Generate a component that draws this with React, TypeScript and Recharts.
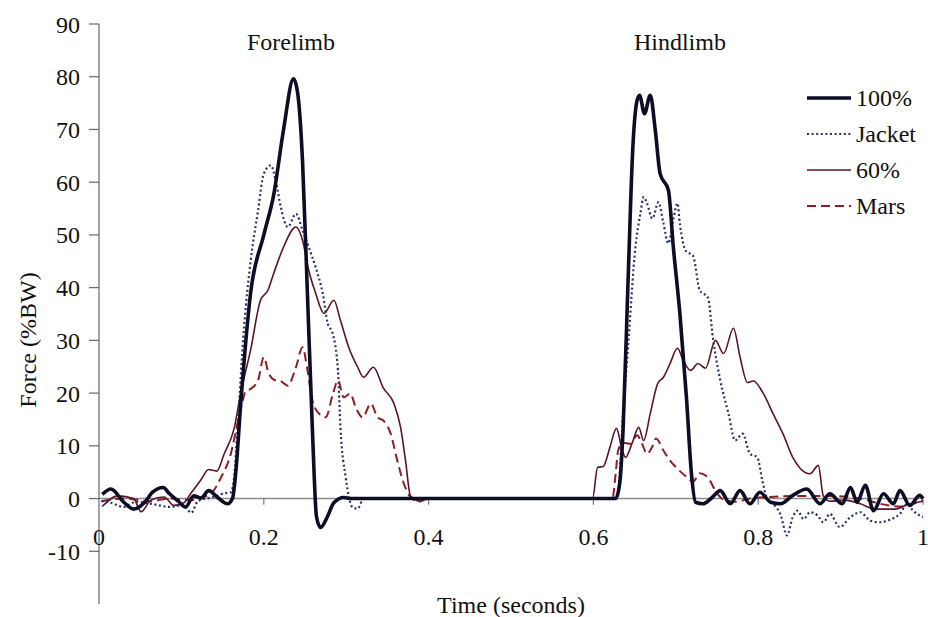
import { LineChart, Line, XAxis, YAxis, ReferenceLine, ReferenceDot, Legend } from "recharts"

// Ground reaction force traces (time in s, force in %BW)
const fullT = [0.004, 0.0145, 0.03, 0.042, 0.055, 0.065, 0.078, 0.085, 0.096, 0.105, 0.115, 0.124, 0.133, 0.144, 0.156, 0.162, 0.166, 0.172, 0.184, 0.2, 0.212, 0.224, 0.236, 0.241, 0.247, 0.253, 0.259, 0.264, 0.269, 0.277, 0.285, 0.297, 0.305, 0.45, 0.627, 0.632, 0.636, 0.642, 0.648, 0.653, 0.656, 0.662, 0.669, 0.675, 0.681, 0.691, 0.697, 0.705, 0.713, 0.719, 0.724, 0.733, 0.744, 0.754, 0.766, 0.778, 0.79, 0.802, 0.815, 0.827, 0.842, 0.859, 0.875, 0.887, 0.902, 0.912, 0.92, 0.93, 0.94, 0.952, 0.964, 0.972, 0.984, 0.996, 1.0]
const fullV = [0.8, 1.8, -0.7, -2.0, -0.8, 1.2, 2.1, 1.0, -0.5, -1.6, 0.5, 0.1, 1.5, 0.2, -1.0, 0, 5, 18, 39, 50, 57.6, 70, 79.6, 77, 64, 38.6, 13, -3.5, -5.5, -3.5, -0.8, 0.2, 0, 0, 0, 3, 13, 41, 67, 75.5, 76.5, 73, 76.5, 70, 61.6, 58.5, 47.7, 35, 19, 4.7, -0.7, -1, 0.2, 1.5, -1, 1.5, -1, 1.2, -0.7, -1, 0.6, 1.8, -1, 0.9, -1, 2.1, -0.7, 2.5, -2.3, 0.9, -1, 1.5, -1.3, 0.6, 0]

const jacketT = [0.003, 0.0145, 0.03, 0.045, 0.063, 0.087, 0.102, 0.112, 0.12, 0.139, 0.152, 0.16, 0.164, 0.168, 0.176, 0.184, 0.193, 0.2, 0.2085, 0.2145, 0.2206, 0.229, 0.239, 0.247, 0.2545, 0.263, 0.2715, 0.2776, 0.2836, 0.29, 0.293, 0.2994, 0.308, 0.314, 0.321, 0.45, 0.629, 0.636, 0.642, 0.651, 0.657, 0.661, 0.665, 0.6715, 0.679, 0.685, 0.691, 0.697, 0.702, 0.705, 0.712, 0.721, 0.729, 0.739, 0.745, 0.754, 0.764, 0.772, 0.781, 0.79, 0.799, 0.805, 0.811, 0.818, 0.827, 0.835, 0.842, 0.848, 0.855, 0.863, 0.872, 0.879, 0.887, 0.899, 0.912, 0.924, 0.936, 0.948, 0.96, 0.972, 0.981, 0.988, 1.0]
const jacketV = [-0.5, -0.8, -1.6, -0.6, -1.0, -1.6, -1.2, -2.7, -0.5, 0.3, 1.0, 1.2, 4, 13, 32.5, 45, 54.6, 61.6, 63.2, 60.3, 55.3, 51.5, 54, 50.9, 47.7, 43.8, 38.9, 33.2, 31.3, 24.3, 13.5, 4, -1.7, -1.9, 0, 0, 0, 16, 28.7, 47.7, 54, 57.2, 56, 53.1, 56.2, 52.2, 48.4, 53, 56, 52, 47, 46, 39.5, 38.1, 30.5, 22.4, 16.1, 11, 12.3, 8.5, 7.8, 3.4, 0, -1, -3, -7, -3.5, -2.3, -3.9, -2.6, -3.2, -4.5, -2.9, -5.4, -3.5, -2.6, -4.2, -4.5, -4, -2.9, -1, -2.3, -3.5]

const sixtyT = [0.004, 0.023, 0.042, 0.051, 0.063, 0.079, 0.091, 0.103, 0.1115, 0.124, 0.133, 0.143, 0.152, 0.164, 0.172, 0.184, 0.196, 0.205, 0.212, 0.224, 0.239, 0.247, 0.2545, 0.263, 0.273, 0.285, 0.293, 0.303, 0.314, 0.321, 0.333, 0.345, 0.358, 0.366, 0.372, 0.378, 0.39, 0.399, 0.5, 0.599, 0.605, 0.612, 0.62, 0.628, 0.635, 0.639, 0.647, 0.655, 0.661, 0.669, 0.678, 0.685, 0.693, 0.702, 0.709, 0.718, 0.727, 0.736, 0.748, 0.758, 0.77, 0.778, 0.787, 0.794, 0.806, 0.818, 0.83, 0.842, 0.851, 0.863, 0.873, 0.879, 0.887, 0.905, 0.924, 0.942, 0.966, 0.984, 1.0]
const sixtyV = [-1.5, 0.5, 0, -2.5, -0.3, 0.3, -1.3, -0.8, 1, 3.6, 5.5, 5.2, 8.5, 13.3, 20, 28.2, 37.6, 39.5, 42.7, 47.7, 51.5, 49, 43.3, 38.9, 35.1, 37.6, 33.8, 28.7, 24.9, 23, 24.9, 21, 18, 13.5, 7.2, 0.5, -0.5, 0, 0, 0, 5.9, 6.1, 9.7, 13.3, 9.1, 7.8, 10.5, 13.5, 11, 16.1, 21.8, 23, 25.6, 28.5, 26.2, 24.3, 25.6, 24.7, 30, 27.5, 32.3, 26.8, 22, 22.3, 20, 16.1, 12.3, 7.8, 5.7, 4.7, 6.3, 0.5, -0.5, -0.3, -1, -2, -2, -1, -0.5]

const marsT = [0.003, 0.03, 0.063, 0.084, 0.1115, 0.136, 0.148, 0.16, 0.168, 0.1745, 0.178, 0.184, 0.193, 0.2, 0.206, 0.2145, 0.22, 0.229, 0.239, 0.247, 0.253, 0.259, 0.267, 0.275, 0.284, 0.29, 0.297, 0.305, 0.3115, 0.32, 0.33, 0.338, 0.345, 0.354, 0.362, 0.37, 0.378, 0.388, 0.399, 0.5, 0.623, 0.627, 0.63, 0.636, 0.645, 0.653, 0.659, 0.665, 0.672, 0.676, 0.685, 0.693, 0.703, 0.714, 0.721, 0.729, 0.739, 0.748, 0.756, 0.772, 0.79, 0.815, 0.85, 0.887, 0.924, 0.948, 0.972, 1.0]
const marsV = [-0.5, 0, -0.5, 0, -0.3, 1, 4, 8.5, 14.2, 18.6, 20.4, 20.8, 22.4, 26.8, 23.7, 22.4, 22.3, 21.4, 24.9, 28.7, 24.3, 18.6, 16.1, 15.4, 19.9, 22.4, 19.2, 19.9, 17.3, 15.4, 18, 15.4, 14.8, 12.3, 7.2, 2.8, 0.3, -0.6, 0, 0, 0, 4.7, 9.1, 10.6, 10.4, 12, 10.4, 8.5, 10, 11.4, 9.1, 7.2, 5.5, 4, 3.2, 4.8, 4, 1.5, 0, -0.6, 0, 0.3, 0.5, 0.5, 0, -1, -1.5, -0.3]

const xTicks = [0, 0.2, 0.4, 0.6, 0.8, 1]
const yTicks = [-20, -10, 0, 10, 20, 30, 40, 50, 60, 70, 80, 90]

const FONT = '"Liberation Serif", "Times New Roman", serif'
const INK = "#111"

const zip = (t: number[], v: number[]) => t.map((x, i) => ({ t: x, v: v[i] }))

const SERIES = [
  { name: "100%", data: zip(fullT, fullV), color: "#0d0d26", width: 3.6, dash: undefined as string | undefined },
  { name: "Jacket", data: zip(jacketT, jacketV), color: "#26316c", width: 2.2, dash: "2 2.6" },
  { name: "60%", data: zip(sixtyT, sixtyV), color: "#5a1428", width: 1.6, dash: undefined },
  { name: "Mars", data: zip(marsT, marsV), color: "#8a1f24", width: 2, dash: "9 5" },
]

function TimeTick({ x, y, payload }: any) {
  return (
    <text x={x} y={y - 67} textAnchor="middle" dominantBaseline="central" fontSize={24} fill={INK}>
      {String(payload.value)}
    </text>
  )
}

function ForceLabel({ viewBox }: any) {
  const cx = viewBox.x + 28
  const cy = viewBox.y + viewBox.height / 2 + 26
  return (
    <text x={cx} y={cy} transform={`rotate(-90 ${cx} ${cy})`} textAnchor="middle" dominantBaseline="central" fontSize={24} fill={INK}>
      Force (%BW)
    </text>
  )
}

function LegendBox() {
  return (
    <div style={{ fontFamily: FONT, fontSize: 24, color: INK }}>
      {SERIES.map((s) => (
        <div key={s.name} style={{ display: "flex", alignItems: "center", height: 36 }}>
          <svg width={46} height={10}>
            <line x1={1} y1={5} x2={45} y2={5} stroke={s.color} strokeWidth={s.width} strokeDasharray={s.dash} />
          </svg>
          <span style={{ marginLeft: 4 }}>{s.name}</span>
        </div>
      ))}
    </div>
  )
}

export default function App() {
  return (
    <div style={{ position: "absolute", left: 0, top: 0, width: 928, height: 617, background: "#fff", fontFamily: FONT }}>
      <LineChart width={928} height={617} margin={{ top: 24, right: 5, bottom: 0, left: 0 }}>
        <XAxis
          dataKey="t"
          type="number"
          domain={[0, 1]}
          ticks={xTicks}
          axisLine={false}
          tickLine={false}
          tickSize={0}
          tickMargin={0}
          height={13}
          tick={<TimeTick />}
          label={{ value: "Time (seconds)", position: "insideBottom", offset: 4, fontSize: 24, fill: INK }}
        />
        <YAxis
          type="number"
          domain={[-20, 90]}
          ticks={yTicks}
          width={99}
          axisLine={{ stroke: "#666", strokeWidth: 1.2 }}
          tickLine={{ stroke: "#666", strokeWidth: 1.2 }}
          tickSize={10}
          tickMargin={9}
          tick={{ fontSize: 24, fill: INK }}
          label={<ForceLabel />}
        />
        <ReferenceLine y={0} stroke="#8c8c8c" strokeWidth={1.5} />
        {xTicks.slice(1).map((t) => (
          <ReferenceLine key={t} segment={[{ x: t, y: 0 }, { x: t, y: -1.2 }]} stroke="#777" strokeWidth={1.2} />
        ))}
        <ReferenceDot x={0.233} y={86.6} r={0} fill="none" stroke="none" label={{ value: "Forelimb", position: "center", fontSize: 24, fill: INK }} />
        <ReferenceDot x={0.705} y={86.6} r={0} fill="none" stroke="none" label={{ value: "Hindlimb", position: "center", fontSize: 24, fill: INK }} />
        {[...SERIES].reverse().map((s) => (
          <Line
            key={s.name}
            data={s.data}
            dataKey="v"
            name={s.name}
            type="monotone"
            stroke={s.color}
            strokeWidth={s.width}
            strokeDasharray={s.dash}
            dot={false}
            activeDot={false}
            isAnimationActive={false}
          />
        ))}
        <Legend
          layout="vertical"
          align="center"
          verticalAlign="middle"
          content={<LegendBox />}
          wrapperStyle={{ left: 806, top: 80, width: 120 }}
        />
      </LineChart>
    </div>
  )
}
